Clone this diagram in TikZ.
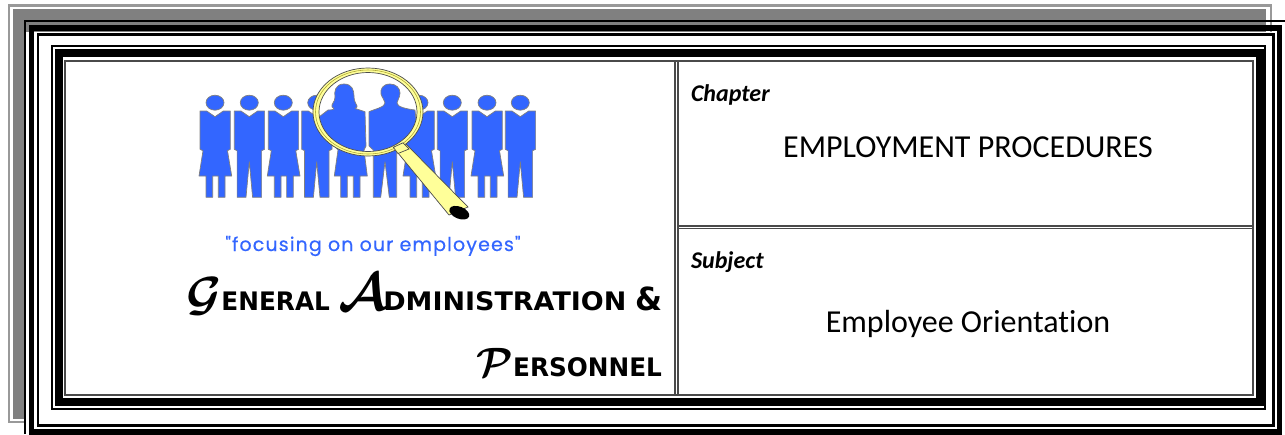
\documentclass[tikz,border=0pt]{standalone}
\usepackage{fontspec}
\usepackage{amsmath}
\usepackage{graphicx}
\setmainfont{Carlito}[Ligatures={TeX,NoCommon}]
\newfontfamily\headfont{DejaVu Sans}[FakeStretch=0.97]
\newfontfamily\tagfont{Poppins}[LetterSpace=6,FakeBold=0.5]
\definecolor{figblue}{HTML}{3366FF}
\definecolor{lensyellow}{HTML}{FFFF99}
\definecolor{shadowgray}{HTML}{808080}
\definecolor{edgegray}{HTML}{999999}
\definecolor{innergray}{HTML}{4A4A4A}
\newcommand{\initial}[2]{\scalebox{#1}{\boldmath$\mathcal{#2}$}}
\newcommand{\caps}[1]{{\fontsize{25.5}{28}\selectfont\bfseries\headfont #1}}
\tikzset{
  framebk/.style={draw=black,fill=none},
  person/.style={fill=figblue,draw=gray,line width=0.7pt,line join=round},
  ringline/.style={draw=black!60,line width=0.6pt},
  cellrule/.style={draw=innergray,line width=1.7pt},
  txt/.style={inner sep=0pt,outer sep=0pt},
  pics/woman/.style={code={
    \path[person] (0,102.7) ellipse [x radius=9,y radius=7.5];
    \path[person] (-15,111)--(-8.3,111)--(0,116.7)--(8.3,111)--(15.3,111)--(15.3,149.3)--(12.5,150.7)--(16.7,176)--(10,176)--(10,197.3)--(3.3,197.3)--(3.3,176)--(-2.3,176)--(-2.3,197.3)--(-9,197.3)--(-9,176)--(-16,176)--(-12,150.7)--(-15,149.3)--cycle;
  }},
  pics/man/.style={code={
    \path[person] (0,102.7) ellipse [x radius=9,y radius=7.5];
    \path[person] (-15,111)--(-8.3,111)--(0,116.7)--(8.3,111)--(15.3,111)--(15.3,149.3)--(12.3,150.7)--(12.3,197.3)--(3.3,197.3)--(0,161.7)--(-3.3,197.3)--(-12.2,197.3)--(-12.2,150.7)--(-15,149.3)--cycle;
  }}
}
\begin{document}
\begin{tikzpicture}[x=1pt,y=-1pt]
\useasboundingbox (0,0) rectangle (1285,434);
\fill[white] (0,0) rectangle (1285,434);
% drop-shadow frame
\draw[edgegray,line width=2.2pt] (9.2,5.4) rectangle (1270.6,422);
\fill[shadowgray] (12.7,9.3) rectangle (1266,419);
\fill[white] (26,32) rectangle (1285,434);
% black frames
\draw[black,line width=2.3pt] (24.8,434)--(24.8,21)--(1285,21);
\draw[framebk,line width=5.2pt] (31.8,28) rectangle (1279.7,432);
\draw[framebk,line width=2.5pt] (38,34.7) rectangle (1273.5,425.3);
\draw[framebk,line width=2.2pt] (51.7,46.2) rectangle (1265,409);
\draw[framebk,line width=8pt] (58.5,53.3) rectangle (1259.7,402);
\draw[draw=innergray,line width=2pt,fill=white] (64.5,60.5) rectangle (1252.5,395);
% cell rules
\draw[cellrule] (675,60.5)--(675,395);
\draw[cellrule] (678,60.5)--(678,395);
\draw[cellrule] (678,225.8)--(1252.5,225.8);
\draw[cellrule] (678,228.5)--(1252.5,228.5);
% people
\pic at (215,0) {woman};
\pic at (249.3,0) {man};
\pic at (283.3,0) {woman};
\pic at (316.7,0) {man};
\pic at (419,0) {woman};
\pic at (452.3,0) {man};
\pic at (487,0) {woman};
\pic at (520.3,0) {man};
% lens interior
\fill[white] (368,112) ellipse [x radius=52,y radius=41];
% enlarged woman
\path[person] (344,84) .. controls (335,84) and (334,92) .. (335,97) .. controls (335,102) and (331,104) .. (332,107) .. controls (336,109) and (333,110) .. (328,110) -- (319.3,116.7) -- (318.5,127) -- (330,142) -- (338,150) -- (334.3,176) -- (340.7,176) -- (340.7,197.3) -- (347.3,197.3) -- (347.3,176) -- (353.3,176) -- (353.3,197.3) -- (360,197.3) -- (360,176) -- (367.3,176) -- (364,150) -- (366,146) -- (365,111.7) -- (356.7,109) .. controls (353,108) and (358,108) .. (357,106) .. controls (355,102) and (354,100) .. (354,96) .. controls (354,90) and (352,84) .. (344,84) -- cycle;
% enlarged man
\path[person] (390,84) .. controls (383,84) and (380,89) .. (381,94) .. controls (382,98) and (385,100) .. (385,103) .. controls (385,107) and (375,109) .. (369,111.7) -- (369,146) -- (373.3,150) -- (373.3,197.3) -- (380.7,197.3) -- (385,161.7) -- (389.3,197.3) -- (396.7,197.3) -- (396.7,152) -- (417,128) -- (415,110) .. controls (407,109) and (397,107) .. (397,103) .. controls (397,100) and (400,98) .. (400,93) .. controls (400,88) and (396,84) .. (390,84) -- cycle;
% magnifier
\path[fill=lensyellow,draw=black!70,line width=0.7pt] (393.3,147.3)--(405,143)--(468,207)--(449,215)--cycle;
\path[fill=lensyellow,draw=black!70,line width=0.7pt,even odd rule] (368,112) ellipse [x radius=55,y radius=44] (368,112) ellipse [x radius=49,y radius=39.5];
\draw[ringline,draw=olive!70] (368,112) ellipse [x radius=52.5,y radius=42];
\path[fill=lensyellow,draw=black!70,line width=0.7pt] (393.3,147.3)--(403,142.8)--(409,149)--(398,153.5)--cycle;
\fill[black,rotate around={-22:(459.3,212.7)}] (459.3,212.7) ellipse [x radius=10.5,y radius=6];
% text
\node[txt,anchor=base,text=figblue] (tagline) at (373,251) {\tagfont\fontsize{19}{22}\selectfont "focusing on our employees"};
\node[txt,anchor=base east] (headone) at (662,310) {\initial{4.8}{G}\caps{ENERAL }\initial{5.3}{A}\kern-4pt\scalebox{1.09}[1]{\caps{DMINISTRATION}}\caps{ }\scalebox{1.25}{\caps{\&}}};
\node[txt,anchor=base east] (headtwo) at (662,376) {\initial{4.1}{P}\caps{ERSONNEL}};
\node[txt,anchor=base west] (chapterlabel) at (691,101) {\fontsize{24}{28}\selectfont\bfseries\itshape Chapter};
\node[txt,anchor=base] (chaptertext) at (968,157) {\fontsize{32}{36}\selectfont EMPLOYMENT PROCEDURES};
\node[txt,anchor=base west] (subjectlabel) at (691,268) {\fontsize{24}{28}\selectfont\bfseries\itshape Subject};
\node[txt,anchor=base] (subjecttext) at (968,332) {\fontsize{32}{36}\selectfont Employee Orientation};
\end{tikzpicture}
\end{document}
